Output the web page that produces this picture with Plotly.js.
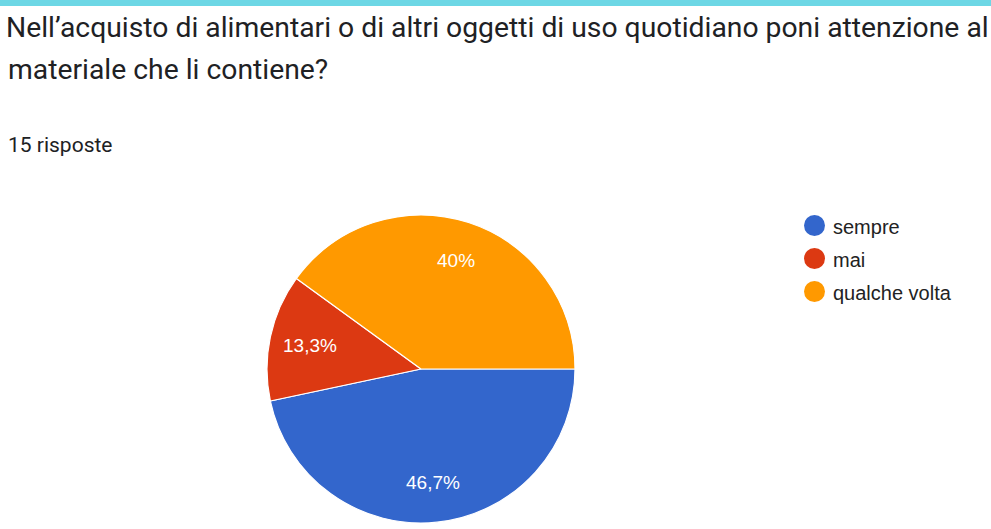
<!DOCTYPE html>
<html>
<head>
<meta charset="utf-8">
<script src="https://cdn.plot.ly/plotly-3.0.1.min.js"></script>
<style>html,body{margin:0;padding:0;background:#fff;}#chart{width:991px;height:529px;}</style>
</head>
<body>
<div id="chart"></div>
<script>
const labels = ["sempre", "mai", "qualche volta"];
const counts = [7, 2, 6];
const colors = ["#3366cc", "#dc3912", "#ff9900"];
const titleLine1 = "Nell’acquisto di alimentari o di altri oggetti di uso quotidiano poni attenzione al";
const titleLine2 = "materiale che li contiene?";
const subtitle = "15 risposte";

const W = 991, H = 529;
const px = x => x / W;
const py = y => 1 - y / H;

// pie geometry (pixels)
const CX = 421, CY = 369, R = 154;

const pie = {
  type: "pie",
  labels: labels,
  values: counts,
  sort: false,
  direction: "clockwise",
  rotation: 90,
  marker: { colors: colors, line: { color: "#ffffff", width: 1.2 } },
  textinfo: "none",
  hoverinfo: "none",
  showlegend: false,
  domain: { x: [px(CX - R), px(CX + R)], y: [py(CY + R), py(CY - R)] }
};

const shapes = [
  { type: "rect", xref: "paper", yref: "paper", x0: 0, x1: 1, y0: py(6), y1: 1.01,
    fillcolor: "#6dd7e5", line: { width: 0 }, layer: "below" }
];
const annotations = [
  { text: titleLine2, xref: "paper", yref: "paper", x: px(6), y: py(70), xanchor: "left", yanchor: "middle",
    showarrow: false, font: { family: "Roboto, sans-serif", size: 28.3, color: "#202124" } },
  { text: subtitle, xref: "paper", yref: "paper", x: px(6), y: py(145), xanchor: "left", yanchor: "middle",
    showarrow: false, font: { family: "Roboto, sans-serif", size: 21, color: "#202124" } }
];

// percentage labels, placed from the data at the slice mid-angles
const total = counts.reduce((a, b) => a + b, 0);
let cum = 0;
counts.forEach((v, i) => {
  const frac = v / total;
  const mid = (cum + frac / 2) * 2 * Math.PI; // clockwise from 3 o'clock
  cum += frac;
  const r = 0.74 * R;
  const x = CX + r * Math.cos(mid);
  const y = CY + r * Math.sin(mid);
  const pct = Math.round(frac * 1000) / 10;
  annotations.push({ text: String(pct).replace(".", ",") + "%", xref: "paper", yref: "paper",
    x: px(x), y: py(y), xanchor: "center", yanchor: "middle", showarrow: false,
    font: { family: "Liberation Sans, Arial, sans-serif", size: 19, color: "#ffffff" } });
});

labels.forEach((lab, i) => {
  const cy = 225.5 + i * 33;
  shapes.push({ type: "circle", xref: "paper", yref: "paper",
    x0: px(804), x1: px(825), y0: py(cy + 10.5), y1: py(cy - 10.5),
    fillcolor: colors[i], line: { width: 0 } });
  annotations.push({ text: lab, xref: "paper", yref: "paper", x: px(831), y: py(cy + 1), xanchor: "left", yanchor: "middle",
    showarrow: false, font: { family: "Liberation Sans, Arial, sans-serif", size: 20, color: "#222222" } });
});

const layout = {
  width: W, height: H,
  margin: { l: 0, r: 0, t: 0, b: 0 },
  paper_bgcolor: "#ffffff",
  title: { text: titleLine1, xref: "paper", yref: "container", x: px(6), xanchor: "left",
    y: py(27), yanchor: "middle", font: { family: "Roboto, sans-serif", size: 28.3, color: "#202124" } },
  shapes: shapes,
  annotations: annotations,
  showlegend: false
};

Plotly.newPlot("chart", [pie], layout, { displayModeBar: false, staticPlot: true });
</script>
</body>
</html>
